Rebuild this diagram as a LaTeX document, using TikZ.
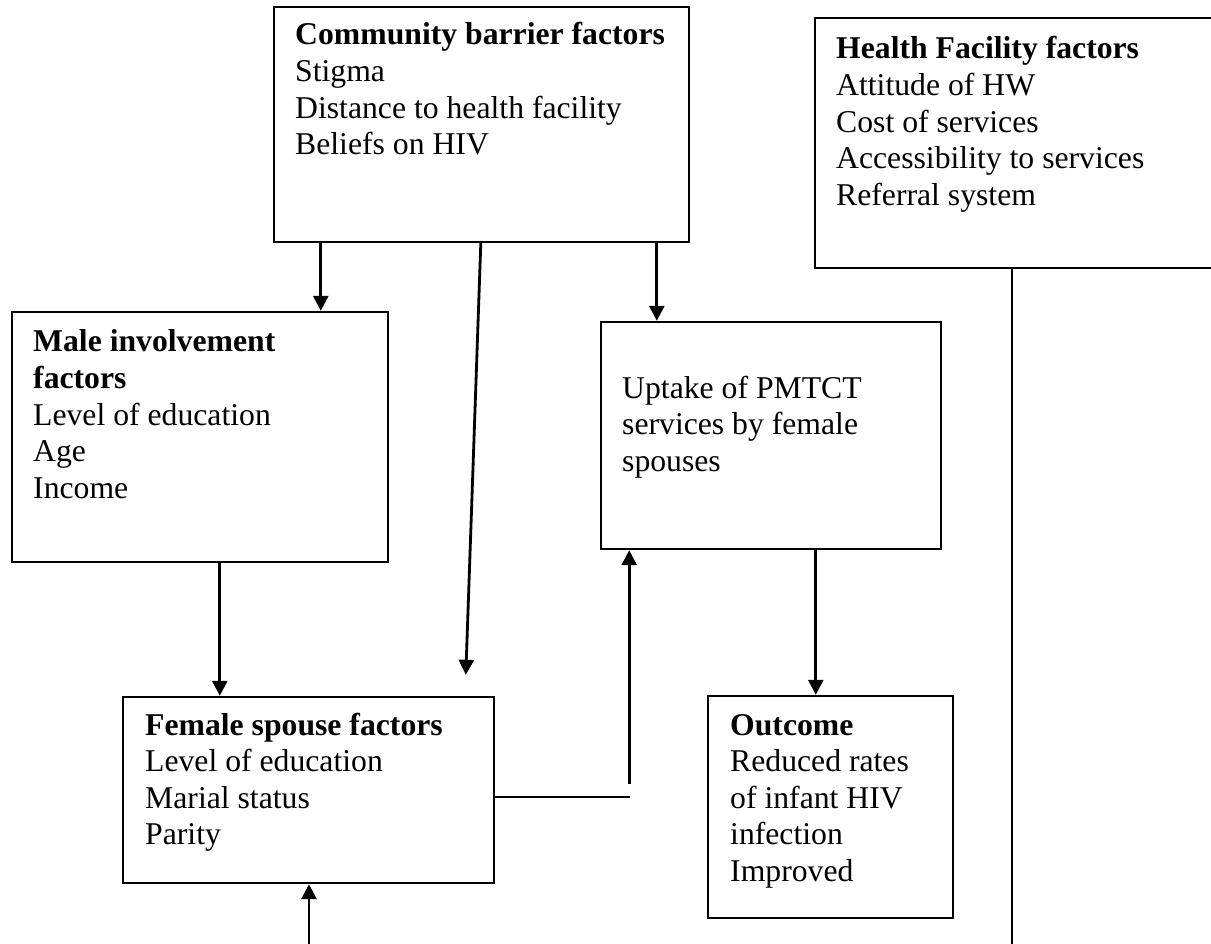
\documentclass[tikz,border=0pt]{standalone}
\usepackage{fontspec}
\setmainfont{Liberation Serif}
\usetikzlibrary{arrows.meta,calc}
\begin{document}
\begin{tikzpicture}[x=1pt,y=-1pt,
  box/.style={draw, line width=2.4pt, inner sep=0pt},
  arr/.style={line width=2.8pt, -{Triangle[length=15pt,width=15pt]}},
  plain/.style={line width=2.8pt},
  lbl/.style={anchor=base west, inner sep=0pt, font=\fontsize{31.7}{36.6}\selectfont}]
\useasboundingbox (0,0) rectangle (1211,944);
\clip (0,0) rectangle (1211,944);
% boxes
\node[box, minimum width=415pt, minimum height=235pt] (comm) at (481.5,124.5) {};
\node[box, minimum width=415pt, minimum height=250pt] (health) at (1022.5,143) {};
\node[box, minimum width=376pt, minimum height=250pt] (male) at (200,437) {};
\node[box, minimum width=340pt, minimum height=227pt] (uptake) at (771,435.5) {};
\node[box, minimum width=371pt, minimum height=186pt] (female) at (308.5,790) {};
\node[box, minimum width=245pt, minimum height=222pt] (outcome) at (830.5,807) {};
% texts
\node[lbl] (commtext) at (295,45) {\begin{tabular}[t]{@{}l@{}}\textbf{Community barrier factors}\\Stigma\\Distance to health facility\\Beliefs on HIV\end{tabular}};
\node[lbl] (healthtext) at (836,59) {\begin{tabular}[t]{@{}l@{}}\textbf{Health Facility factors}\\Attitude of HW\\Cost of services\\Accessibility to services\\Referral system\end{tabular}};
\node[lbl] (maletext) at (33,352) {\begin{tabular}[t]{@{}l@{}}\textbf{Male involvement}\\\textbf{factors}\\Level of education\\Age\\Income\end{tabular}};
\node[lbl] (uptaketext) at (622,398) {\begin{tabular}[t]{@{}l@{}}Uptake of PMTCT\\services by female\\spouses\end{tabular}};
\node[lbl] (femaletext) at (145,735) {\begin{tabular}[t]{@{}l@{}}\textbf{Female spouse factors}\\Level of education\\Marial status\\Parity\end{tabular}};
\node[lbl] (outcometext) at (730,735) {\begin{tabular}[t]{@{}l@{}}\textbf{Outcome}\\Reduced rates\\of infant HIV\\infection\\Improved\end{tabular}};
% connector anchor points
\coordinate (c1) at ($(comm.south west)+(48,0)$);
\coordinate (c2) at ($(comm.south west)+(208,0)$);
\coordinate (c2end) at ($(female.north west)+(344,-21)$);
\coordinate (c3) at ($(comm.south west)+(384,0)$);
\coordinate (m1) at ($(male.south west)+(209,0)$);
\coordinate (f1) at ($(female.east)+(0,7)$);
\coordinate (j1) at ($(f1)+(135,0)$);
\coordinate (j2) at ($(f1)+(134,-13)$);
\coordinate (u1) at ($(uptake.south west)+(216,0)$);
\coordinate (h1) at ($(health.south west)+(198,0)$);
\coordinate (hend) at (1013,944);
\coordinate (bstart) at (309,944);
% connectors
\draw[arr] (c1) -- (c1 |- male.north);
\draw[arr] (c2) -- (c2end);
\draw[arr] (c3) -- (c3 |- uptake.north);
\draw[arr] (m1) -- (m1 |- female.north);
\draw[plain] (f1) -- (j1);
\draw[arr] (j2) -- (j2 |- uptake.south);
\draw[arr] (u1) -- (u1 |- outcome.north);
\draw[line width=2.4pt] (h1) -- (h1 |- hend);
\draw[arr] (bstart) -- (bstart |- female.south);
\end{tikzpicture}
\end{document}
